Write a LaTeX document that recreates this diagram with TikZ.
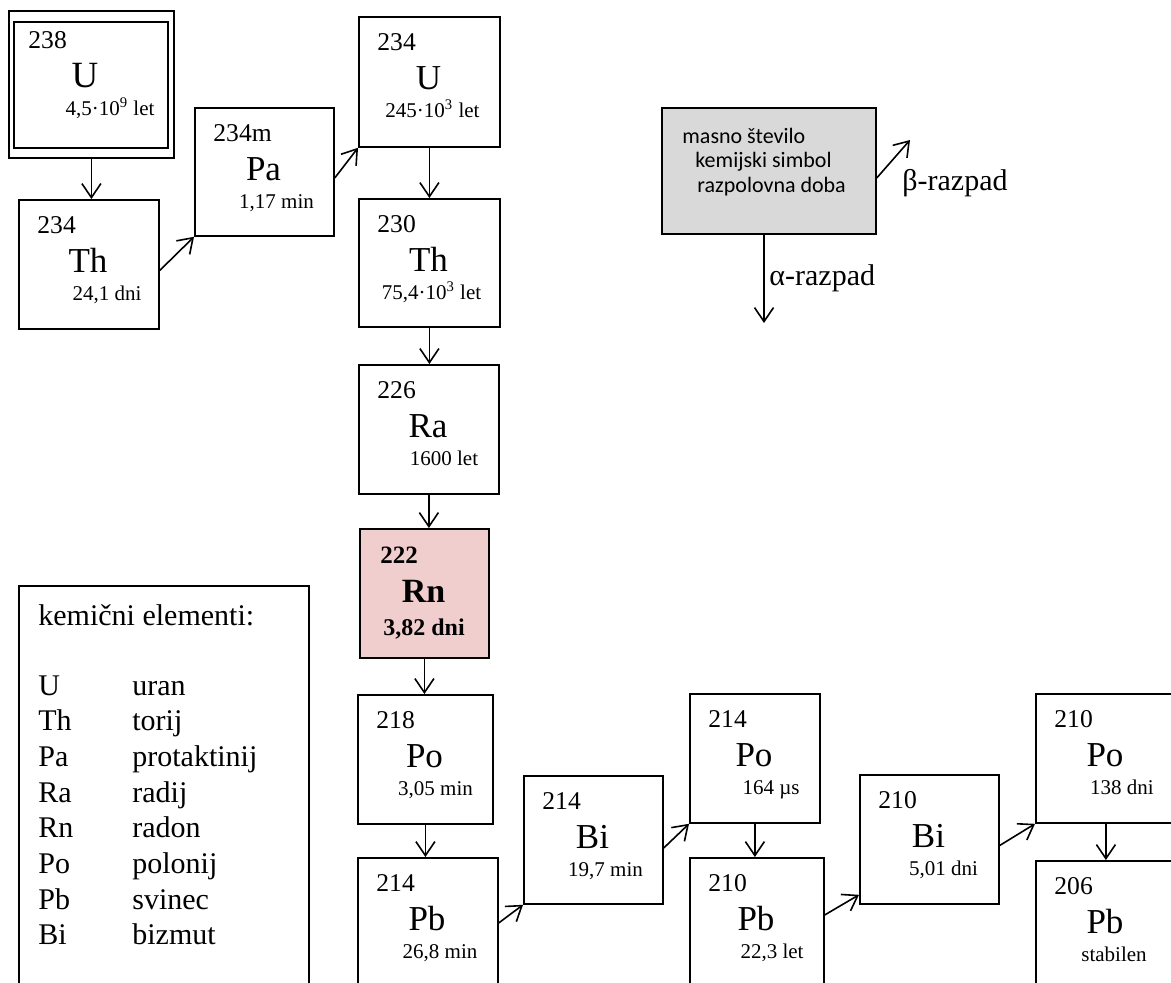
\documentclass[tikz,border=0pt]{standalone}
\usepackage{fontspec}
\setmainfont{Liberation Serif}
\newfontfamily\keyfont{Carlito}
\usetikzlibrary{arrows.meta}
\definecolor{radonpink}{RGB}{241,206,206}
\definecolor{keygray}{RGB}{217,217,217}
\tikzset{
  isobox/.style={draw, line width=0.9pt, inner sep=0pt, anchor=north west},
  masa/.style={font=\fontsize{12.8}{14}\selectfont, inner sep=0pt, anchor=base west},
  simbol/.style={font=\fontsize{17.5}{20}\selectfont, inner sep=0pt, anchor=base},
  doba/.style={font=\fontsize{10.5}{12}\selectfont, inner sep=0pt, anchor=base},
  razpad/.style={-{Straight Barb[length=7pt,width=9.5pt]}, line width=0.8pt},
  legtext/.style={font=\fontsize{15}{17}\selectfont, inner sep=0pt, anchor=base west},
  keytext/.style={font=\keyfont\fontsize{11}{12}\selectfont, inner sep=0pt, anchor=base west}
}
\begin{document}
\begin{tikzpicture}[x=0.5pt, y=-0.5pt]
  \clip (0,0) rectangle (1171,982);

  % uran 238 (dvojni okvir)
  \node[isobox, minimum width=165*0.5pt, minimum height=147*0.5pt] (U238out) at (8,10) {};
  \node[isobox, minimum width=154*0.5pt, minimum height=126*0.5pt] (U238) at (13,21) {};
  \node[masa] (U238-m) at (28,48) {238};
  \node[simbol, font=\fontsize{18.5}{20}\selectfont] (U238-s) at (85,87) {U};
  \node[doba] (U238-d) at (110,115) {4,5·10\textsuperscript{9} let};

  % radon 222
  \node[isobox, fill=radonpink, minimum width=129*0.5pt, minimum height=129*0.5pt] (Rn222) at (359,528) {};
  \node[masa, font=\bfseries\fontsize{12.5}{14}\selectfont] (Rn222-m) at (380,563) {222};
  \node[simbol, font=\bfseries\fontsize{17}{20}\selectfont] (Rn222-s) at (423.5,602) {Rn};
  \node[doba, font=\bfseries\fontsize{12}{14}\selectfont] (Rn222-d) at (424,635) {3,82 dni};

  % ostali nuklidi
  \foreach \n/\l/\t/\w/\h/\m/\s/\z/\d in {
      Th234/18/199/140/129/234/Th/{24,1 dni}/19,
      Pa234/194/107/139/128/234m/Pa/{1,17 min}/13,
      U234/358/16/141/130/234/U/{245·10\textsuperscript{3} let}/4,
      Th230/358/198/141/128/230/Th/{75,4·10\textsuperscript{3} let}/3,
      Ra226/358/364/140/129/226/Ra/{1600 let}/16,
      Po218/357/694/135/129/218/Po/{3,05 min}/11,
      Pb214/357/857/140/130/214/Pb/{26,8 min}/13,
      Bi214/523/775/139/128/214/Bi/{19,7 min}/13,
      Po214/689/693/130/129/214/Po/{164 µs}/17,
      Pb210/689/857/134/130/210/Pb/{22,3 let}/16,
      Bi210/859/774/139/129/210/Bi/{5,01 dni}/15,
      Po210/1035/693/140/129/210/Po/{138 dni}/17,
      Pb206/1035/860/140/130/206/Pb/{stabilen}/9}
  {
    \node[isobox, minimum width=\w*0.5pt, minimum height=\h*0.5pt] (\n) at (\l,\t) {};
    \node[masa] (\n-m) at (\l+19,\t+34) {\m};
    \node[simbol] (\n-s) at (\l+\w/2,\t+73) {\s};
    \node[doba] (\n-d) at (\l+\w/2+\d,\t+101) {\z};
  }

  % alfa razpadi
  \foreach \a/\b in {U238out/Th234, U234/Th230, Th230/Ra226, Ra226/Rn222,
      Rn222/Po218, Po218/Pb214, Po214/Pb210, Po210/Pb206}
    \draw[razpad] (\a.south) -- (\a.south |- \b.north);

  % beta razpadi
  \draw[razpad] ([yshift=-3pt]Th234.east) -- (Pa234.south west);
  \draw[razpad] ([yshift=-3pt]Pa234.east) -- (U234.south west);
  \draw[razpad] (Pb214.east) -- (Bi214.south west);
  \draw[razpad] ([yshift=-4pt]Bi214.east) -- (Po214.south west);
  \draw[razpad] ([yshift=4pt]Pb210.east) -- ([yshift=5pt]Bi210.south west);
  \draw[razpad] ([yshift=-3pt]Bi210.east) -- (Po210.south west);

  % legenda razpadov
  \node[isobox, fill=keygray, minimum width=214*0.5pt, minimum height=126*0.5pt] (key) at (661,107) {};
  \node[keytext] (key-1) at (682,143) {masno število};
  \node[keytext] (key-2) at (695,167) {kemijski simbol};
  \node[keytext] (key-3) at (697,192) {razpolovna doba};
  \coordinate (alfa) at (764,323);
  \coordinate (beta) at (910,140);
  \draw[razpad] (key.south -| alfa) -- (alfa);
  \draw[razpad] ([yshift=-3.5pt]key.east) -- (beta);
  \node[legtext, font=\fontsize{15}{17}\selectfont] (alfa-txt) at (769,285) {α-razpad};
  \node[legtext, font=\fontsize{15}{17}\selectfont] (beta-txt) at (902,190) {β-razpad};

  % kemicni elementi
  \node[isobox, minimum width=290*0.5pt, minimum height=440*0.5pt] (legenda) at (18,585) {};
  \node[legtext] (leg-title) at (38,625) {kemični elementi:};
  \foreach \s/\ime [count=\i] in {U/uran, Th/torij, Pa/protaktinij, Ra/radij,
      Rn/radon, Po/polonij, Pb/svinec, Bi/bizmut}
  {
    \node[legtext] (leg-\i-s) at (38,695+35.7*\i-35.7) {\s};
    \node[legtext] (leg-\i-n) at (132,695+35.7*\i-35.7) {\ime};
  }
\end{tikzpicture}
\end{document}
